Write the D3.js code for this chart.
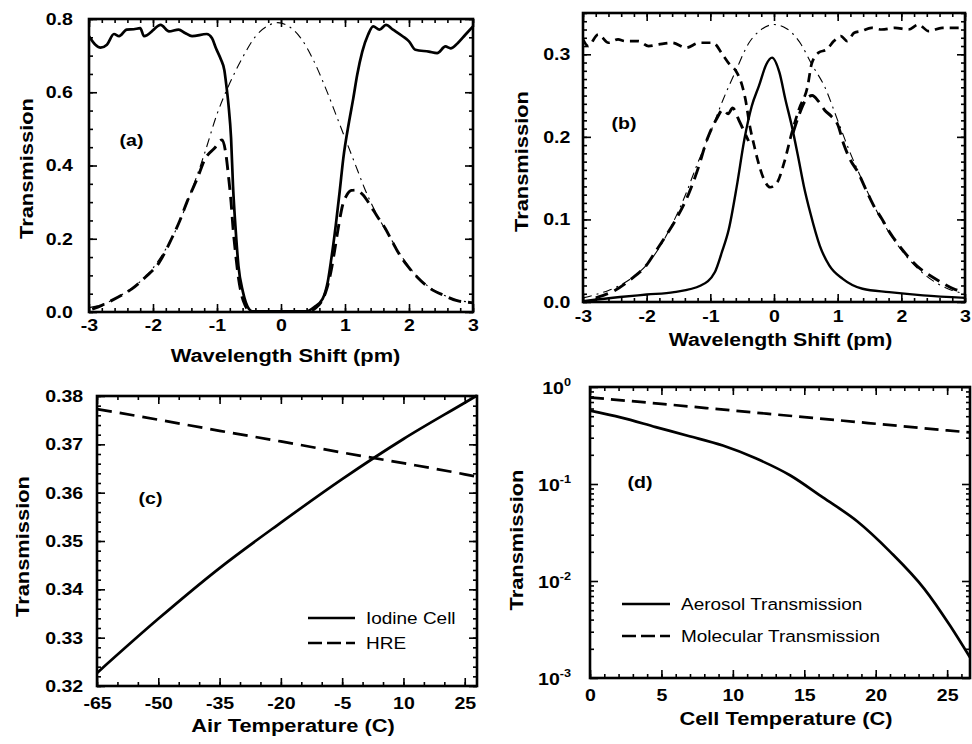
<!DOCTYPE html>
<html>
<head>
<meta charset="utf-8">
<script src="https://cdn.jsdelivr.net/npm/d3@7"></script>
<style>
  html, body { margin: 0; padding: 0; background: #fff; }
  svg { display: block; }
  text { font-family: "Liberation Sans", Arial, Helvetica, sans-serif; fill: #000; }
</style>
</head>
<body>
<svg id="fig" width="972" height="744"></svg>
<script>
// ---------- data ----------
// (a) transmission vs wavelength shift (pm)
const iodineShiftA = [[-3.0,0.753],[-2.9,0.73],[-2.82,0.722],[-2.72,0.73],[-2.61,0.759],[-2.53,0.753],[-2.41,0.771],[-2.3,0.772],
  [-2.2,0.775],[-2.14,0.753],[-2.02,0.766],[-1.99,0.771],[-1.88,0.784],[-1.75,0.766],[-1.6,0.771],[-1.5,0.762],[-1.39,0.753],
  [-1.16,0.759],[-1.08,0.748],[-1.016,0.72],[-0.94,0.69],[-0.885,0.66],[-0.855,0.62],[-0.82,0.565],[-0.78,0.474],[-0.75,0.345],
  [-0.706,0.219],[-0.665,0.126],[-0.595,0.055],[-0.5,0.008],[-0.45,0.002],[0.4,0.002],[0.516,0.013],[0.65,0.036],[0.73,0.082],
  [0.786,0.145],[0.855,0.236],[0.917,0.329],[0.973,0.419],[1.064,0.52],[1.13,0.584],[1.19,0.647],[1.27,0.711],[1.36,0.757],
  [1.44,0.78],[1.54,0.771],[1.64,0.784],[1.75,0.771],[1.9,0.753],[2.0,0.739],[2.1,0.716],[2.31,0.711],[2.44,0.707],[2.57,0.725],
  [2.65,0.72],[2.76,0.734],[2.88,0.757],[3.0,0.78]];
const laserShiftA = [[-3.0,0.012],[-2.8,0.02],[-2.6,0.036],[-2.4,0.057],[-2.2,0.083],[-2.0,0.12],[-1.8,0.172],[-1.6,0.24],
  [-1.4,0.33],[-1.2,0.43],[-1.0,0.54],[-0.8,0.625],[-0.6,0.695],[-0.4,0.752],[-0.2,0.782],[-0.05,0.79],[0.1,0.782],[0.3,0.75],
  [0.5,0.69],[0.7,0.61],[0.9,0.52],[1.0,0.475],[1.1,0.43],[1.2,0.385],[1.3,0.34],[1.5,0.265],[1.7,0.205],[1.9,0.148],[2.1,0.102],
  [2.3,0.07],[2.5,0.05],[2.7,0.035],[2.9,0.028],[3.0,0.026]];
const productShiftA = [[-2.95,0.008],[-2.8,0.018],[-2.65,0.031],[-2.5,0.045],[-2.33,0.063],[-2.12,0.095],[-1.9,0.136],[-1.71,0.2],
  [-1.58,0.25],[-1.47,0.3],[-1.31,0.364],[-1.18,0.42],[-1.04,0.447],[-0.92,0.47],[-0.86,0.43],[-0.82,0.37],[-0.78,0.3],[-0.75,0.23],
  [-0.71,0.16],[-0.67,0.1],[-0.62,0.05],[-0.56,0.018],[-0.5,0.004],[-0.45,0],[0.45,0],[0.52,0.008],[0.62,0.025],[0.7,0.055],
  [0.78,0.11],[0.84,0.17],[0.9,0.235],[0.96,0.29],[1.03,0.32],[1.1,0.332],[1.18,0.333],[1.28,0.32],[1.4,0.29],[1.5,0.262],
  [1.63,0.228],[1.73,0.195],[1.83,0.163],[1.98,0.125],[2.13,0.095],[2.34,0.063],[2.55,0.045],[2.75,0.031],[2.9,0.027],[3.0,0.025]];

// (b) transmission vs wavelength shift (pm)
const peakShiftB = [[-3.0,0.001],[-2.42,0.006],[-2.0,0.009],[-1.57,0.012],[-1.15,0.02],[-0.93,0.036],[-0.82,0.06],[-0.71,0.088],
  [-0.585,0.14],[-0.465,0.197],[-0.35,0.237],[-0.235,0.262],[-0.12,0.288],[-0.03,0.296],[0.085,0.278],[0.18,0.245],[0.28,0.213],
  [0.376,0.177],[0.47,0.14],[0.57,0.108],[0.72,0.068],[0.87,0.044],[1.08,0.028],[1.39,0.016],[1.81,0.012],[2.34,0.008],[3.0,0.005]];
const laserShiftB = [[-3.0,0.005],[-2.8,0.009],[-2.6,0.014],[-2.4,0.021],[-2.2,0.031],[-2.0,0.045],[-1.8,0.066],[-1.6,0.094],
  [-1.4,0.128],[-1.2,0.168],[-1.0,0.205],[-0.8,0.245],[-0.6,0.28],[-0.4,0.313],[-0.2,0.33],[0.0,0.336],[0.2,0.331],[0.4,0.315],
  [0.6,0.287],[0.8,0.26],[1.0,0.22],[1.2,0.18],[1.4,0.145],[1.6,0.112],[1.8,0.085],[2.0,0.063],[2.2,0.045],[2.4,0.031],[2.6,0.021],
  [2.8,0.014],[3.0,0.01]];
const upperShiftB = [[-3.0,0.318],[-2.92,0.31],[-2.76,0.324],[-2.6,0.314],[-2.45,0.318],[-2.34,0.316],[-2.13,0.316],[-1.97,0.31],
  [-1.81,0.312],[-1.6,0.314],[-1.38,0.308],[-1.17,0.314],[-0.96,0.314],[-0.81,0.3],[-0.7,0.288],[-0.6,0.28],[-0.5,0.262],
  [-0.45,0.246],[-0.38,0.213],[-0.31,0.189],[-0.26,0.173],[-0.16,0.149],[-0.06,0.139],[0.05,0.145],[0.16,0.169],[0.28,0.205],
  [0.39,0.233],[0.53,0.262],[0.59,0.288],[0.7,0.302],[0.83,0.306],[0.94,0.316],[1.05,0.322],[1.15,0.316],[1.26,0.326],[1.37,0.328],
  [1.53,0.332],[1.69,0.33],[1.9,0.332],[2.11,0.33],[2.27,0.336],[2.43,0.328],[2.64,0.332],[3.0,0.332]];
const lowerShiftB = [[-2.8,0.005],[-2.68,0.008],[-2.5,0.014],[-2.24,0.028],[-2.0,0.045],[-1.87,0.06],[-1.7,0.08],[-1.54,0.1],
  [-1.33,0.133],[-1.2,0.16],[-1.05,0.197],[-0.9,0.222],[-0.8,0.233],[-0.72,0.228],[-0.65,0.235],[-0.55,0.22],[-0.46,0.205],
  [-0.4,0.195],[0,null],[0.3,0.205],[0.4,0.228],[0.5,0.245],[0.6,0.25],[0.7,0.243],[0.8,0.232],[0.9,0.225],[1.0,0.215],[1.1,0.19],
  [1.2,0.172],[1.32,0.157],[1.45,0.135],[1.57,0.116],[1.7,0.1],[1.82,0.084],[2.0,0.065],[2.14,0.052],[2.3,0.04],[2.45,0.032],
  [2.6,0.025],[2.82,0.016],[3.0,0.012]];

// (c) transmission vs air temperature (C)
const airTemps = [-65, -50, -35, -20, -5, 10, 25, 28];
const iodineCellC = [0.3227, 0.3339, 0.3444, 0.3538, 0.3628, 0.3711, 0.3786, 0.3801];
const hreC = [0.3773, 0.3751, 0.3728, 0.3706, 0.3683, 0.3661, 0.3638, 0.3633];

// (d) transmission vs cell temperature (C)
const cellTempsAerosol = [0, 2.2, 4.6, 6.9, 9.3, 11.6, 14.0, 16.3, 18.7, 21.0, 23.4, 25.2, 26.6];
const aerosolD = [0.57, 0.483, 0.386, 0.313, 0.249, 0.184, 0.123, 0.0726, 0.0413, 0.0201, 0.0083, 0.00347, 0.00163];
const cellTempsMolecular = [0, 5, 10, 15, 20, 25, 26.6];
const molecularD = [0.78, 0.67, 0.572, 0.489, 0.418, 0.357, 0.34];

// tick values
const shiftTicks = [-3, -2, -1, 0, 1, 2, 3];
const yTicksA = [0, 0.2, 0.4, 0.6, 0.8];
const yTicksB = [0, 0.1, 0.2, 0.3];
const airTempTicks = [-65, -50, -35, -20, -5, 10, 25];
const yTicksC = [0.32, 0.33, 0.34, 0.35, 0.36, 0.37, 0.38];
const cellTempTicks = [0, 5, 10, 15, 20, 25];
const yTicksD = [1e-3, 1e-2, 1e-1, 1];
const yExponentsD = ["-3", "-2", "-1", "0"];

// ---------- drawing helpers ----------
const STRETCH = 1.15;
const svg = d3.select("#fig");
svg.append("rect").attr("width", 972).attr("height", 744).attr("fill", "#fff");

function addText(parent, x, y, str, o = {}) {
  const g = parent.append("g")
    .attr("transform", `translate(${x},${y}) rotate(${o.rotate || 0}) scale(${STRETCH},1)`);
  return g.append("text")
    .attr("text-anchor", o.anchor || "middle")
    .attr("font-size", o.size || 17)
    .attr("font-weight", o.weight || "bold")
    .text(str);
}

const plain = d => String(d);

function framedAxes(g, x, y, o) {
  const [x0, x1] = x.range();
  const [y0, y1] = y.range();
  const majLen = 8, minLen = 4;
  const put = (axis, tr) => {
    const a = g.append("g").attr("transform", tr).call(axis);
    a.select(".domain").remove();
    a.selectAll(".tick line").attr("stroke", "#000").attr("stroke-width", 1.6);
    return a;
  };
  // minor ticks on all four sides
  put(d3.axisBottom(x).tickValues(o.xMinor).tickSize(-minLen).tickFormat(""), `translate(0,${y0})`);
  put(d3.axisTop(x).tickValues(o.xMinor).tickSize(-minLen).tickFormat(""), `translate(0,${y1})`);
  put(d3.axisLeft(y).tickValues(o.yMinor).tickSize(-minLen).tickFormat(""), `translate(${x0},0)`);
  put(d3.axisRight(y).tickValues(o.yMinor).tickSize(-minLen).tickFormat(""), `translate(${x1},0)`);
  // major ticks
  const bx = put(d3.axisBottom(x).tickValues(o.xMajor).tickSizeInner(-majLen).tickSizeOuter(0)
    .tickPadding(o.xPad).tickFormat(o.xFmt || plain), `translate(0,${y0})`);
  put(d3.axisTop(x).tickValues(o.xMajor).tickSize(-majLen).tickFormat(""), `translate(0,${y1})`);
  const ly = put(d3.axisLeft(y).tickValues(o.yMajor).tickSizeInner(-majLen).tickSizeOuter(0)
    .tickPadding(o.yPad).tickFormat(o.yFmt || (() => "")), `translate(${x0},0)`);
  put(d3.axisRight(y).tickValues(o.yMajor).tickSize(-majLen).tickFormat(""), `translate(${x1},0)`);
  [bx, ly].forEach(a => {
    a.attr("font-family", null).attr("font-size", 17).attr("font-weight", "bold");
    a.selectAll(".tick text").attr("fill", "#000").attr("transform", `scale(${STRETCH},1)`);
  });
  // frame
  g.append("rect").attr("x", x0).attr("y", y1).attr("width", x1 - x0).attr("height", y0 - y1)
    .attr("fill", "none").attr("stroke", "#000").attr("stroke-width", 2.6);
}

let clipCount = 0;
function plotArea(g, x, y) {
  const [x0, x1] = x.range();
  const [y0, y1] = y.range();
  const id = "clip" + (clipCount++);
  svg.append("clipPath").attr("id", id).append("rect")
    .attr("x", x0 - 1).attr("y", y1 - 2).attr("width", x1 - x0 + 2).attr("height", y0 - y1 + 3);
  return g.append("g").attr("clip-path", `url(#${id})`);
}

const SOLID = { width: 2.7, dash: null };
const DASHED = { width: 2.9, dash: "13,7" };
const DASHDOT = { width: 1.1, dash: "9,5,2,5" };

function series(area, x, y, data, style) {
  const line = d3.line()
    .defined(d => d[1] != null)
    .x(d => x(d[0])).y(d => y(d[1]))
    .curve(d3.curveMonotoneX);
  area.append("path").datum(data).attr("d", line)
    .attr("fill", "none").attr("stroke", "#000")
    .attr("stroke-width", style.width)
    .attr("stroke-linejoin", "round")
    .attr("stroke-dasharray", style.dash);
}

function legendRow(g, x0, x1, yy, style, label) {
  g.append("line").attr("x1", x0).attr("x2", x1).attr("y1", yy).attr("y2", yy)
    .attr("stroke", "#000").attr("stroke-width", style.width).attr("stroke-dasharray", style.dash);
  addText(g, x1 + 11, yy + 6, label, { anchor: "start", size: 16.5, weight: "normal" });
}

const fmt1 = d3.format(".1f");
const fmt2 = d3.format(".2f");

// ---------- panel (a) ----------
{
  const g = svg.append("g");
  const x = d3.scaleLinear([-3, 3], [89, 473]);
  const y = d3.scaleLinear([0, 0.8], [312, 19]);
  const area = plotArea(g, x, y);
  series(area, x, y, laserShiftA, DASHDOT);
  series(area, x, y, productShiftA, DASHED);
  series(area, x, y, iodineShiftA, SOLID);
  framedAxes(g, x, y, {
    xMajor: shiftTicks, xMinor: d3.range(-15, 16).map(i => i / 5),
    yMajor: yTicksA, yMinor: d3.range(0, 17).map(i => i * 0.05),
    xPad: 7, yPad: 14, yFmt: fmt1
  });
  addText(g, 131.5, 146, "(a)", { size: 17 });
  addText(g, 285.5, 362, "Wavelength Shift (pm)", { size: 19 });
  addText(g, 33, 168.5, "Transmission", { size: 19, rotate: -90 });
}

// ---------- panel (b) ----------
{
  const g = svg.append("g");
  const x = d3.scaleLinear([-3, 3], [583, 965]);
  const y = d3.scaleLinear([0, 0.35], [302, 13]);
  const area = plotArea(g, x, y);
  series(area, x, y, laserShiftB, DASHDOT);
  series(area, x, y, upperShiftB, { width: 2.7, dash: "9,6" });
  series(area, x, y, lowerShiftB, DASHED);
  series(area, x, y, peakShiftB, { width: 2.4, dash: null });
  framedAxes(g, x, y, {
    xMajor: shiftTicks, xMinor: d3.range(-15, 16).map(i => i / 5),
    yMajor: yTicksB, yMinor: d3.range(0, 36).map(i => i * 0.01),
    xPad: 8, yPad: 11, yFmt: fmt1
  });
  addText(g, 624, 129, "(b)", { size: 17 });
  addText(g, 780.5, 346, "Wavelength Shift (pm)", { size: 18.5 });
  addText(g, 528, 161.5, "Transmission", { size: 19, rotate: -90 });
}

// ---------- panel (c) ----------
{
  const g = svg.append("g");
  const x = d3.scaleLinear([-65, 28], [97, 477]);
  const y = d3.scaleLinear([0.32, 0.38], [686, 396]);
  const area = plotArea(g, x, y);
  series(area, x, y, d3.zip(airTemps, hreC), { width: 2.7, dash: "15,8" });
  series(area, x, y, d3.zip(airTemps, iodineCellC), SOLID);
  framedAxes(g, x, y, {
    xMajor: airTempTicks, xMinor: d3.range(-65, 28, 5),
    yMajor: yTicksC, yMinor: d3.range(0, 31).map(i => 0.32 + i * 0.002),
    xPad: 11, yPad: 12, yFmt: fmt2
  });
  legendRow(g, 308, 355, 618, SOLID, "Iodine Cell");
  legendRow(g, 308, 355, 643, { width: 2.7, dash: "14,5" }, "HRE");
  addText(g, 150.5, 504, "(c)", { size: 17 });
  addText(g, 293, 732, "Air Temperature (C)", { size: 19 });
  addText(g, 29, 546.5, "Transmission", { size: 19, rotate: -90 });
}

// ---------- panel (d) ----------
{
  const g = svg.append("g");
  const x = d3.scaleLinear([0, 26.6], [590, 970]);
  const y = d3.scaleLog([1e-3, 1], [678, 387]);
  const area = plotArea(g, x, y);
  series(area, x, y, d3.zip(cellTempsMolecular, molecularD), { width: 2.7, dash: "14,7" });
  series(area, x, y, d3.zip(cellTempsAerosol, aerosolD), SOLID);
  const logMinor = [];
  [1e-3, 1e-2, 1e-1].forEach(dec => d3.range(2, 10).forEach(k => logMinor.push(dec * k)));
  framedAxes(g, x, y, {
    xMajor: cellTempTicks, xMinor: d3.range(0, 27, 1),
    yMajor: yTicksD, yMinor: logMinor,
    xPad: 11, yPad: 0
  });
  // powers of ten on the log axis
  yTicksD.forEach((v, i) => {
    const t = addText(g, 571, y(v) + 7, "", { anchor: "end", size: 17 });
    t.append("tspan").text("10");
    t.append("tspan").attr("dy", -8).attr("font-size", 11).text(yExponentsD[i]);
  });
  legendRow(g, 622, 670, 604, SOLID, "Aerosol Transmission");
  legendRow(g, 622, 670, 636, { width: 2.7, dash: "14,5" }, "Molecular Transmission");
  addText(g, 640, 488, "(d)", { size: 17 });
  addText(g, 786, 725, "Cell Temperature (C)", { size: 19 });
  addText(g, 523, 540, "Transmission", { size: 19, rotate: -90 });
}
</script>
</body>
</html>
